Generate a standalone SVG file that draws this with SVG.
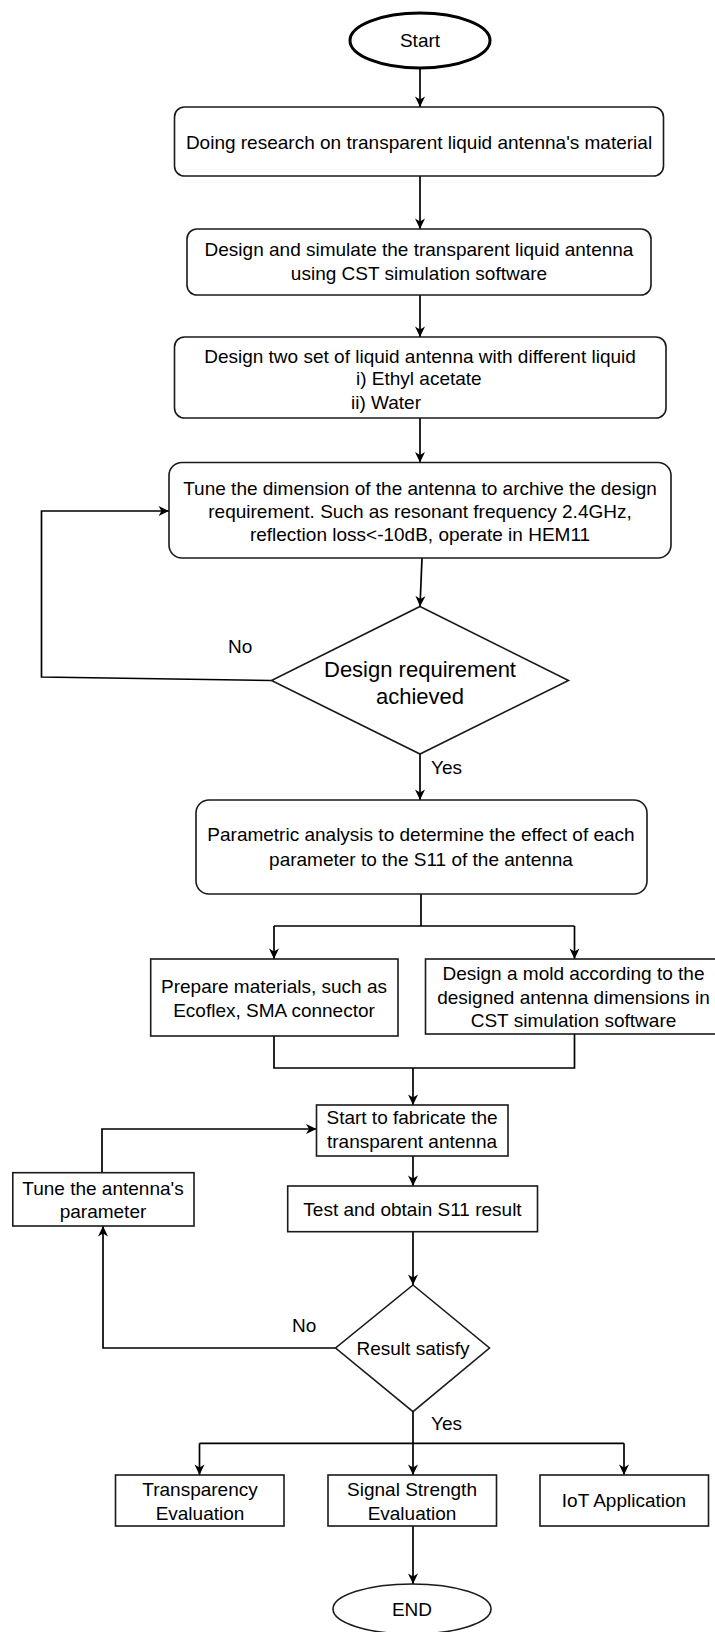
<svg xmlns="http://www.w3.org/2000/svg" width="715" height="1632" viewBox="0 0 715 1632">
<style>
.bx{fill:#fff;stroke:#1a1a1a;stroke-width:1.6}
.t{font-family:"Liberation Sans",Arial,sans-serif;font-size:19px;fill:#000;text-anchor:middle}
.tl{font-family:"Liberation Sans",Arial,sans-serif;font-size:19px;fill:#000}
.tb{font-family:"Liberation Sans",Arial,sans-serif;font-size:22px;fill:#000;text-anchor:middle}
.c{fill:none;stroke:#000;stroke-width:1.7}
.ca{fill:none;stroke:#000;stroke-width:1.7;marker-end:url(#arr)}
</style>
<defs>
<marker id="arr" viewBox="0 0 12 12" refX="11" refY="6" markerWidth="12" markerHeight="12" orient="auto" markerUnits="userSpaceOnUse">
<path d="M0.5,1 L11,6 L0.5,11 L3.5,6 z" fill="#000"/>
</marker>
</defs>
<rect width="715" height="1632" fill="#fff"/>
<g id="connectors">
<path class="ca" d="M420,68 L420,107"/>
<path class="ca" d="M420,176 L420,229"/>
<path class="ca" d="M420,295 L420,337"/>
<path class="ca" d="M420,418 L420,462.5"/>
<path class="ca" d="M422,558 L420,606.5"/>
<path class="ca" d="M271.5,680.5 L41.5,677 L41.5,511 L169,511"/>
<path class="ca" d="M420,754 L420,800"/>
<path class="c" d="M421,894 L421,926 M274,926 L574.5,926"/>
<path class="ca" d="M274,926 L274,959"/>
<path class="ca" d="M574.5,926 L574.5,959"/>
<path class="c" d="M274,1036 L274,1068 L574.5,1068 L574.5,1034"/>
<path class="ca" d="M413,1068 L413,1105"/>
<path class="ca" d="M413,1156 L413,1186"/>
<path class="ca" d="M102,1172.7 L102,1129 L316.5,1129"/>
<path class="ca" d="M413,1231.7 L413,1285"/>
<path class="ca" d="M335.6,1348 L103,1348 L103,1226"/>
<path class="ca" d="M413,1411.7 L413,1475"/>
<path class="c" d="M199.5,1443.3 L624,1443.3"/>
<path class="ca" d="M199.5,1443.3 L199.5,1475"/>
<path class="ca" d="M624,1443.3 L624,1475"/>
<path class="ca" d="M413,1526 L413,1584"/>
<text class="tl" x="228" y="652.5">No</text>
<text class="tl" x="431" y="773.5">Yes</text>
<text class="tl" x="292" y="1331.5">No</text>
<text class="tl" x="431" y="1429.5">Yes</text>
</g>
<g id="start">
<ellipse cx="420" cy="40.5" rx="70" ry="27.5" fill="#fff" stroke="#000" stroke-width="3"/>
<text class="t" x="420" y="47">Start</text>
</g>
<g id="research">
<rect class="bx" x="174.5" y="107" width="489" height="69" rx="10"/>
<text class="t" x="419" y="148.5">Doing research on transparent liquid antenna's material</text>
</g>
<g id="simulate">
<rect class="bx" x="187" y="229" width="464" height="66" rx="10"/>
<text class="t" x="419" y="255.5">Design and simulate the transparent liquid antenna</text>
<text class="t" x="419" y="279.5">using CST simulation software</text>
</g>
<g id="twoset">
<rect class="bx" x="174.5" y="337" width="491.5" height="81" rx="10"/>
<text class="t" x="420" y="362.5">Design two set of liquid antenna with different liquid</text>
<text class="tl" x="356" y="384.5">i) Ethyl acetate</text>
<text class="tl" x="351" y="408.5">ii) Water</text>
</g>
<g id="tune">
<rect class="bx" x="169" y="462.5" width="502" height="95.5" rx="13"/>
<text class="t" x="420" y="494.5">Tune the dimension of the antenna to archive the design</text>
<text class="t" x="420" y="517.5">requirement. Such as resonant frequency 2.4GHz,</text>
<text class="t" x="420" y="540.5">reflection loss&lt;-10dB, operate in HEM11</text>
</g>
<g id="decision1">
<polygon class="bx" points="420,606.5 568.5,680.5 420,754 271.5,680.5"/>
<text class="tb" x="420" y="677">Design requirement</text>
<text class="tb" x="420" y="704">achieved</text>
</g>
<g id="parametric">
<rect class="bx" x="196" y="800" width="451" height="94" rx="13"/>
<text class="t" x="421" y="840.5">Parametric analysis to determine the effect of each</text>
<text class="t" x="421" y="865.5">parameter to the S11 of the antenna</text>
</g>
<g id="prepare">
<rect class="bx" x="150.7" y="959" width="247.3" height="77"/>
<text class="t" x="274" y="993">Prepare materials, such as</text>
<text class="t" x="274" y="1017">Ecoflex, SMA connector</text>
</g>
<g id="mold">
<rect class="bx" x="425.5" y="959" width="296" height="75"/>
<text class="t" x="573.5" y="979.5">Design a mold according to the</text>
<text class="t" x="573.5" y="1003.5">designed antenna dimensions in</text>
<text class="t" x="573.5" y="1026.5">CST simulation software</text>
</g>
<g id="fabricate">
<rect class="bx" x="316.5" y="1105" width="191.5" height="51"/>
<text class="t" x="412" y="1124">Start to fabricate the</text>
<text class="t" x="412" y="1148">transparent antenna</text>
</g>
<g id="test">
<rect class="bx" x="287.7" y="1186" width="249.8" height="45.7"/>
<text class="t" x="412.5" y="1215.5">Test and obtain S11 result</text>
</g>
<g id="tuneparam">
<rect class="bx" x="12.8" y="1172.7" width="181.2" height="53.3"/>
<text class="t" x="103" y="1194.5">Tune the antenna's</text>
<text class="t" x="103" y="1218">parameter</text>
</g>
<g id="decision2">
<polygon class="bx" points="413,1285 489.5,1348 413,1411.7 335.6,1348"/>
<text class="t" x="413" y="1354.5">Result satisfy</text>
</g>
<g id="transparency">
<rect class="bx" x="115.5" y="1475" width="168.5" height="51"/>
<text class="t" x="200" y="1495.5">Transparency</text>
<text class="t" x="200" y="1519.5">Evaluation</text>
</g>
<g id="signal">
<rect class="bx" x="328" y="1475" width="168.5" height="51"/>
<text class="t" x="412" y="1495.5">Signal Strength</text>
<text class="t" x="412" y="1519.5">Evaluation</text>
</g>
<g id="iot">
<rect class="bx" x="540" y="1475" width="168.5" height="51"/>
<text class="t" x="624" y="1506.5">IoT Application</text>
</g>
<g id="end">
<ellipse cx="412" cy="1609" rx="79" ry="25" fill="#fff" stroke="#1a1a1a" stroke-width="1.6"/>
<text class="t" x="412" y="1615.5">END</text>
</g>
</svg>
